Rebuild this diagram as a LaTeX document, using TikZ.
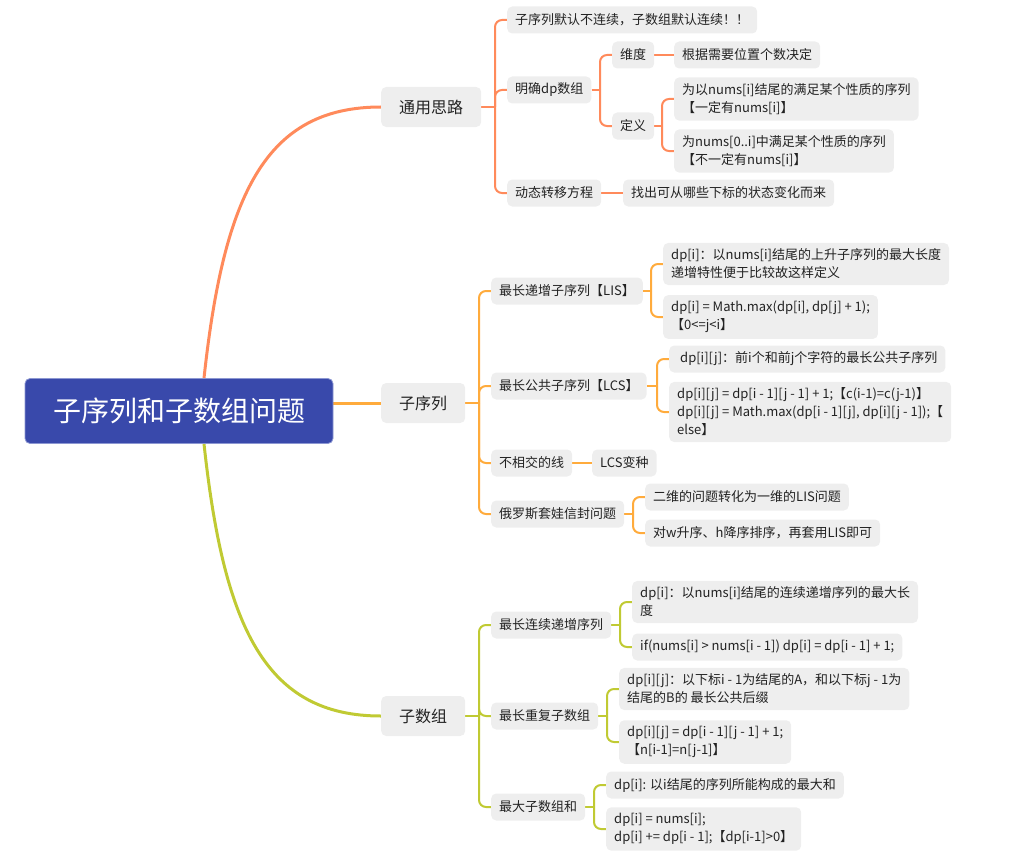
\documentclass[tikz,border=0pt]{standalone}
\usepackage{fontspec}
\setmainfont{Noto Sans CJK SC}
\usetikzlibrary{calc,backgrounds}
\definecolor{cA}{HTML}{FF8A5B}
\definecolor{cB}{HTML}{FFAB3C}
\definecolor{cC}{HTML}{C0CA33}
\definecolor{rootc}{HTML}{3949AB}
\definecolor{rootedge}{HTML}{8C97D2}
\definecolor{boxc}{HTML}{EEEEEE}
\definecolor{txt}{HTML}{222222}
\newcommand\mmbranch[3]{%
  \coordinate (tmpx) at ($(#3.west)+(-12,0)$);
  \draw[line width=2pt,#1] (#2.east) -- (tmpx |- #2.east);
  \draw[line width=2pt,#1,rounded corners=7pt] (tmpx |- #2.east) |- (#3.west);
}
\begin{document}
\begin{tikzpicture}[x=1pt,y=-1pt,
 rootnode/.style={fill=rootc, draw=rootedge, line width=0.8pt, rounded corners=5pt, text=white, font=\fontsize{28}{32}\selectfont, minimum width=308pt, minimum height=65pt, inner sep=0pt},
 mainnode/.style={fill=boxc, rounded corners=5pt, text=txt, font=\fontsize{16}{20}\selectfont, inner xsep=18pt, inner ysep=4pt, minimum height=40pt, anchor=west},
 leaf/.style={fill=boxc, rounded corners=5pt, text=txt, font=\fontsize{13}{18}\selectfont, inner xsep=8pt, inner ysep=6pt, minimum height=27pt, align=left, anchor=west},
 thickln/.style={line width=3pt, line cap=round},
]
\useasboundingbox (0,0) rectangle (1032,864);

\node[rootnode] (root) at (179,411) {子序列和子数组问题};

\node[mainnode] (m1) at (381,107) {通用思路};
\node[mainnode] (m2) at (381,403) {子序列};
\node[mainnode] (m3) at (381,716) {子数组};

% 通用思路
\node[leaf] (a1) at (507,20) {子序列默认不连续，子数组默认连续！！};
\node[leaf] (a2) at (507,90) {明确dp数组};
\node[leaf] (a3) at (507,193) {动态转移方程};
\node[leaf] (a21) at (612,55) {维度};
\node[leaf] (a22) at (612,126) {定义};
\node[leaf] (a211) at (674,55) {根据需要位置个数决定};
\node[leaf] (a221) at (674,99) {为以nums[i]结尾的满足某个性质的序列\\【一定有nums[i]】};
\node[leaf] (a222) at (674,151) {为nums[0..i]中满足某个性质的序列\\【不一定有nums[i]】};
\node[leaf] (a31) at (623,193) {找出可从哪些下标的状态变化而来};

% 子序列
\node[leaf] (b1) at (491,291) {最长递增子序列【LIS】};
\node[leaf] (b2) at (491,386) {最长公共子序列【LCS】};
\node[leaf] (b3) at (491,463) {不相交的线};
\node[leaf] (b4) at (491,514) {俄罗斯套娃信封问题};
\node[leaf] (b11) at (663,264) {dp[i]：以nums[i]结尾的上升子序列的最大长度\\递增特性便于比较故这样定义};
\node[leaf] (b12) at (663,317) {dp[i] = Math.max(dp[i], dp[j] + 1);\\【0<=j<i】};
\node[leaf] (b21) at (669,359) {\hspace*{3pt}dp[i][j]：前i个和前j个字符的最长公共子序列};
\node[leaf] (b22) at (669,412) {dp[i][j] = dp[i - 1][j - 1] + 1;【c(i-1)=c(j-1)】\\dp[i][j] = Math.max(dp[i - 1][j], dp[i][j - 1]);【\\else】};
\node[leaf] (b31) at (592,463) {LCS变种};
\node[leaf] (b41) at (645,497) {二维的问题转化为一维的LIS问题};
\node[leaf] (b42) at (645,533) {对w升序、h降序排序，再套用LIS即可};

% 子数组
\node[leaf] (c1) at (491,625) {最长连续递增序列};
\node[leaf] (c2) at (491,716) {最长重复子数组};
\node[leaf] (c3) at (491,807) {最大子数组和};
\node[leaf] (c11) at (632,602) {dp[i]：以nums[i]结尾的连续递增序列的最大长\\度};
\node[leaf] (c12) at (632,647) {if(nums[i] > nums[i - 1]) dp[i] = dp[i - 1] + 1;};
\node[leaf] (c21) at (619,689) {dp[i][j]：以下标i - 1为结尾的A，和以下标j - 1为\\结尾的B的 最长公共后缀};
\node[leaf] (c22) at (619,742) {dp[i][j] = dp[i - 1][j - 1] + 1;\\【n[i-1]=n[j-1]】};
\node[leaf] (c31) at (606,785) {dp[i]: 以i结尾的序列所能构成的最大和};
\node[leaf] (c32) at (606,829) {dp[i] = nums[i];\\dp[i] += dp[i - 1];【dp[i-1]>0】};

\begin{scope}[on background layer]
\draw[thickln, cA] ($(root.north)+(25,0)$) .. controls +(20,-185) and +(-115,0) .. (m1.west);
\draw[thickln, cC] ($(root.south)+(25,0)$) .. controls +(20,185) and +(-115,0) .. (m3.west);
\draw[thickln, cB] (root.east |- m2.west) -- (m2.west);

\mmbranch{cA}{m1}{a1}
\mmbranch{cA}{m1}{a2}
\mmbranch{cA}{m1}{a3}
\mmbranch{cA}{a2}{a21}
\mmbranch{cA}{a2}{a22}
\draw[line width=2pt,cA] (a21.east) -- (a211.west);
\mmbranch{cA}{a22}{a221}
\mmbranch{cA}{a22}{a222}
\draw[line width=2pt,cA] (a3.east) -- (a31.west);

\mmbranch{cB}{m2}{b1}
\mmbranch{cB}{m2}{b2}
\mmbranch{cB}{m2}{b3}
\mmbranch{cB}{m2}{b4}
\mmbranch{cB}{b1}{b11}
\mmbranch{cB}{b1}{b12}
\mmbranch{cB}{b2}{b21}
\mmbranch{cB}{b2}{b22}
\draw[line width=2pt,cB] (b3.east) -- (b31.west);
\mmbranch{cB}{b4}{b41}
\mmbranch{cB}{b4}{b42}

\mmbranch{cC}{m3}{c1}
\mmbranch{cC}{m3}{c2}
\mmbranch{cC}{m3}{c3}
\mmbranch{cC}{c1}{c11}
\mmbranch{cC}{c1}{c12}
\mmbranch{cC}{c2}{c21}
\mmbranch{cC}{c2}{c22}
\mmbranch{cC}{c3}{c31}
\mmbranch{cC}{c3}{c32}
\end{scope}
\end{tikzpicture}
\end{document}
